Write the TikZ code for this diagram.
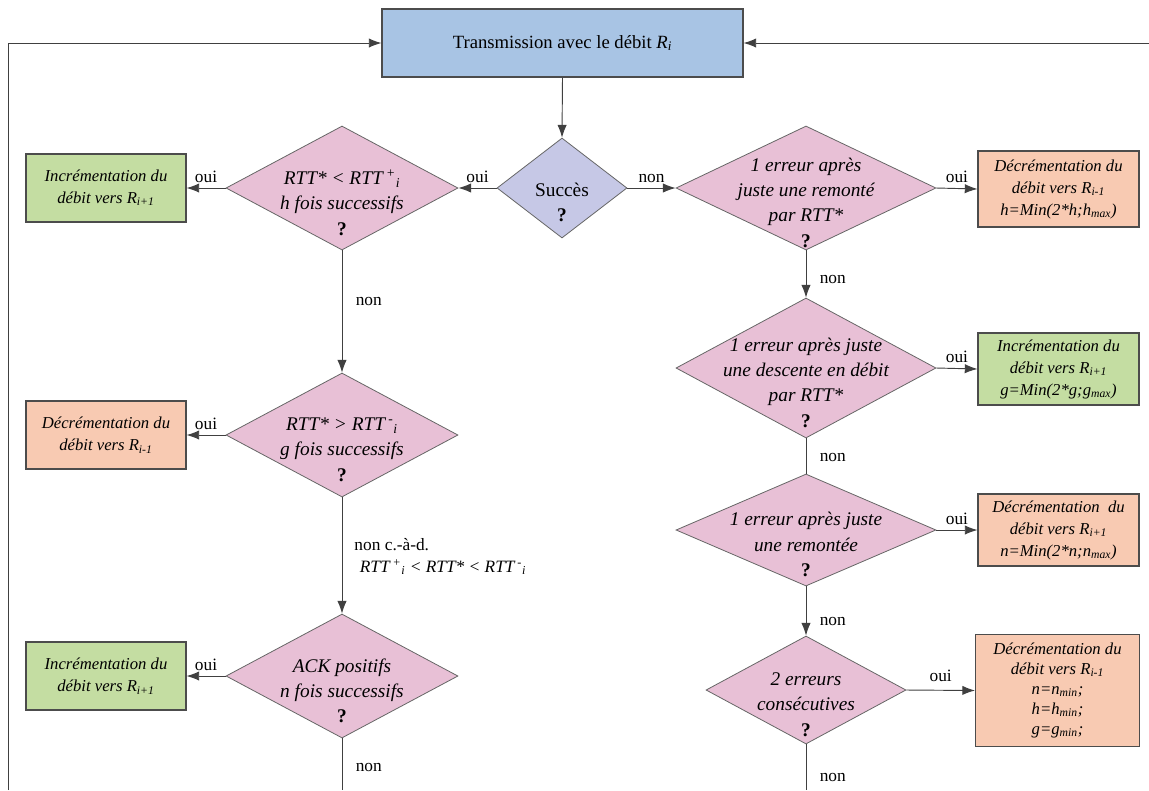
\documentclass[tikz,border=0pt]{standalone}
\usepackage{fontspec}
\setmainfont{Liberation Serif}
\usetikzlibrary{shapes.geometric,arrows.meta}
\definecolor{bluebox}{RGB}{168,196,228}
\definecolor{lavdia}{RGB}{198,200,230}
\definecolor{pinkdia}{RGB}{232,192,214}
\definecolor{greenbox}{RGB}{196,221,162}
\definecolor{orangebox}{RGB}{248,202,178}
\newcommand{\qm}{\textbf{\upshape ?}}

\begin{document}
\begin{tikzpicture}[x=0.75pt, y=-0.75pt,
  conn/.style={draw=black!75, line width=0.7pt},
  arr/.style={conn, -{Latex[length=9.5pt,width=7pt]}},
  dia/.style={diamond, draw=black!60, line width=0.6pt, inner sep=0pt},
  box/.style={rectangle, draw=black!70, line width=0.8pt, inner sep=0pt,
    font=\fontsize{12.5}{16.5}\selectfont\itshape, align=center},
  dtxt/.style={font=\fontsize{14.5}{19}\selectfont\itshape, align=center,
    inner sep=0pt, yshift=-11pt},
  lbl/.style={font=\fontsize{13}{16}\selectfont, inner sep=2pt}]
\useasboundingbox (0,0) rectangle (1149,790);

\node[box, fill=bluebox, minimum width=270.75pt, minimum height=51pt,
  font=\fontsize{14}{17}\selectfont] (trans) at (562.5,43)
  {Transmission avec le débit \textit{R\textsubscript{i}}};
\coordinate (lback) at (8,790);
\coordinate (rback) at (1149,43);
\coordinate (lend) at (342,790);
\coordinate (rend) at (806,790);

\node[dia, fill=lavdia, minimum width=97.5pt, minimum height=75pt] (succ) at (562,188) {};
\node[dtxt, font=\fontsize{14.5}{19}\selectfont] (tsucc) at (succ) {Succès\\\qm};

\node[dia, fill=pinkdia, minimum width=174pt, minimum height=93pt] (d1) at (342,188) {};
\node[dtxt] (td1) at (d1) {RTT* < RTT\,\textsuperscript{+}\textsubscript{i}\\h fois successifs\\\qm};
\node[dia, fill=pinkdia, minimum width=174pt, minimum height=93pt] (d2) at (342,435) {};
\node[dtxt] (td2) at (d2) {RTT* > RTT\,\textsuperscript{-}\textsubscript{i}\\g fois successifs\\\qm};
\node[dia, fill=pinkdia, minimum width=174pt, minimum height=93pt] (d3) at (342,676) {};
\node[dtxt] (td3) at (d3) {ACK positifs\\n fois successifs\\\qm};

\node[box, fill=greenbox, minimum width=120pt, minimum height=51pt] (l1) at (106,188)
  {Incrémentation du\\débit vers R\textsubscript{i+1}};
\node[box, fill=orangebox, minimum width=120pt, minimum height=51pt] (l2) at (106,435)
  {Décrémentation du\\débit vers R\textsubscript{i-1}};
\node[box, fill=greenbox, minimum width=120pt, minimum height=51pt] (l3) at (106,676)
  {Incrémentation du\\débit vers R\textsubscript{i+1}};

\node[dia, fill=pinkdia, minimum width=195pt, minimum height=93pt] (r1) at (806,188) {};
\node[dtxt] (tr1) at (r1) {1 erreur après\\juste une remonté\\par RTT*\\\qm};
\node[dia, fill=pinkdia, minimum width=195pt, minimum height=105pt] (r2) at (806,368) {};
\node[dtxt] (tr2) at (r2) {1 erreur après juste\\une descente en débit\\par RTT*\\\qm};
\node[dia, fill=pinkdia, minimum width=195pt, minimum height=84pt] (r3) at (806,530) {};
\node[dtxt] (tr3) at (r3) {1 erreur après juste\\une remontée\\\qm};
\node[dia, fill=pinkdia, minimum width=150pt, minimum height=81pt] (r4) at (806,690) {};
\node[dtxt] (tr4) at (r4) {2 erreurs\\consécutives\\\qm};

\node[box, fill=orangebox, minimum width=120.75pt, minimum height=57pt] (b1) at (1058.5,189)
  {Décrémentation du\\débit vers R\textsubscript{i-1}\\h=Min(2*h;h\textsubscript{max})};
\node[box, fill=greenbox, minimum width=120.75pt, minimum height=54pt] (b2) at (1058.5,369)
  {Incrémentation du\\débit vers R\textsubscript{i+1}\\g=Min(2*g;g\textsubscript{max})};
\node[box, fill=orangebox, minimum width=120.75pt, minimum height=54pt] (b3) at (1058.5,530)
  {Décrémentation\ \ du\\débit vers R\textsubscript{i+1}\\n=Min(2*n;n\textsubscript{max})};
\node[box, fill=orangebox, minimum width=123pt, minimum height=84pt,
  font=\fontsize{12.5}{15}\selectfont\itshape] (b4) at (1057.5,690.5)
  {Décrémentation du\\débit vers R\textsubscript{i-1}\\n=n\textsubscript{min};\\h=h\textsubscript{min};\\g=g\textsubscript{min};};

\draw[arr] (lback) |- (trans.west);
\draw[arr] (rback) -- (trans.east);
\draw[arr] (trans.south) -- (succ.north);

\draw[arr] (succ.west) -- node[lbl, above, yshift=2pt] {oui} (d1.east);
\draw[arr] (d1.west) -- node[lbl, above, yshift=2pt] {oui} (l1.east);
\draw[arr] (d1.south) -- node[lbl, right=8pt, pos=0.42] {non} (d2.north);
\draw[arr] (d2.west) -- node[lbl, above, yshift=2pt] {oui} (l2.east);
\draw[arr] (d2.south) -- node[lbl, right=7pt, pos=0.51, align=left]
  {non c.-à-d.\\\hspace{4pt}\textit{RTT\,\textsuperscript{+}\textsubscript{i} < RTT* < RTT\,\textsuperscript{-}\textsubscript{i}}} (d3.north);
\draw[arr] (d3.west) -- node[lbl, above, yshift=2pt] {oui} (l3.east);
\draw[conn] (d3.south) -- node[lbl, right=8pt, pos=0.56] {non} (lend);

\draw[arr] (succ.east) -- node[lbl, above, yshift=2pt] {non} (r1.west);
\draw[arr] (r1.east) -- node[lbl, above, yshift=2pt] {oui} (b1.west);
\draw[arr] (r1.south) -- node[lbl, right=8pt, pos=0.62] {non} (r2.north);
\draw[arr] (r2.east) -- node[lbl, above, yshift=2pt] {oui} (b2.west);
\draw[conn] (r2.south) -- node[lbl, right=8pt, pos=0.55] {non} (r3.north);
\draw[arr] (r3.east) -- node[lbl, above, yshift=2pt] {oui} (b3.west);
\draw[arr] (r3.south) -- node[lbl, right=8pt, pos=0.72] {non} (r4.north);
\draw[arr] (r4.east) -- node[lbl, above, yshift=4pt] {oui} (b4.west);
\draw[conn] (r4.south) -- node[lbl, right=8pt, pos=0.72] {non} (rend);
\end{tikzpicture}
\end{document}
